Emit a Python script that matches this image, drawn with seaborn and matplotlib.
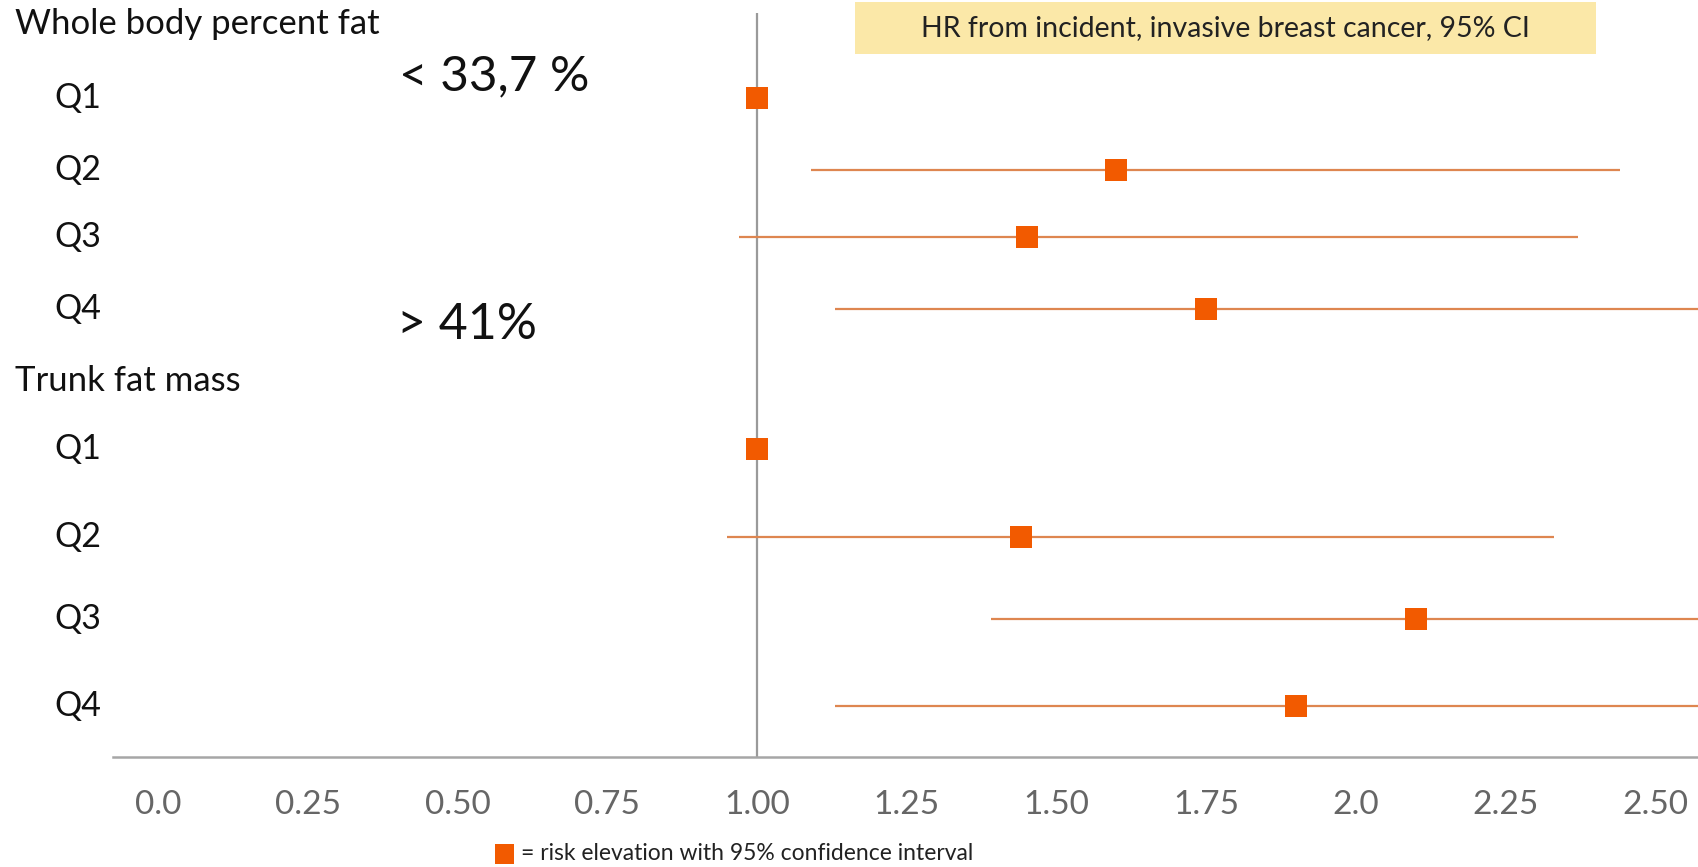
import numpy as np
import pandas as pd
import matplotlib
matplotlib.use("Agg")
import matplotlib.pyplot as plt
import matplotlib.patches as patches
import matplotlib.transforms as mtrans
import seaborn as sns

sns.set_style("white")
plt.rcParams["font.family"] = ["Lato", "DejaVu Sans"]

# data
groups = ["Whole body percent fat"] * 4 + ["Trunk fat mass"] * 4
quartiles = ["Q1", "Q2", "Q3", "Q4", "Q1", "Q2", "Q3", "Q4"]
hr = [1.00, 1.60, 1.45, 1.75, 1.00, 1.44, 2.10, 1.90]
ci_low = [1.00, 1.09, 0.97, 1.13, 1.00, 0.95, 1.39, 1.13]
ci_high = [1.00, 2.44, 2.37, 2.65, 1.00, 2.33, 2.65, 2.65]
tick_values = [0.0, 0.25, 0.50, 0.75, 1.00, 1.25, 1.50, 1.75, 2.0, 2.25, 2.50]
tick_labels = ["0.0", "0.25", "0.50", "0.75", "1.00", "1.25", "1.50", "1.75", "2.0", "2.25", "2.50"]

# layout: vertical row positions (pixels from top)
row_pos = [98, 170, 237, 309, 449, 537, 619, 706]
header_pos = {"Whole body percent fat": 24, "Trunk fat mass": 381}

df = pd.DataFrame({"group": groups, "q": quartiles, "hr": hr,
                   "lo": ci_low, "hi": ci_high, "row": row_pos})

W, H = 1699, 867
fig = plt.figure(figsize=(W / 100, H / 100), dpi=100)
ax = fig.add_axes([113 / W, (H - 757) / H, 1 - 113 / W, 757 / H])

orange = "#F25A00"
line_col = "#DE8650"

ax.vlines(1.0, 13, 757, color="#9a9a9a", lw=1.6, zorder=1)
ax.hlines(df["row"], df["lo"], df["hi"], color=line_col, lw=1.6, zorder=2)
sns.scatterplot(data=df, x="hr", y="row", marker="s", s=250, color=orange,
                linewidth=0, ax=ax, zorder=3, legend=False)

ax.set_xlim(-0.0751, 2.5726)
ax.set_ylim(757, 0)
ax.set_xticks(tick_values)
ax.set_xticklabels(tick_labels, fontsize=24, color="#666666")
ax.tick_params(axis="x", length=0, pad=24)
ax.set_yticks([])
ax.set_xlabel("")
ax.set_ylabel("")
for s in ["top", "right", "left"]:
    ax.spines[s].set_visible(False)
ax.spines["bottom"].set_color("#a6a6a6")
ax.spines["bottom"].set_linewidth(1.8)

# row labels on the left
tr = mtrans.blended_transform_factory(fig.transFigure, ax.transData)
for name, y in header_pos.items():
    ax.text(15 / W, y, name, transform=tr, fontsize=25, va="center", ha="left",
            color="#111111", clip_on=False)
for q, y in zip(df["q"], df["row"]):
    ax.text(54 / W, y, q, transform=tr, fontsize=24.5, va="center", ha="left",
            color="#111111", clip_on=False)

fig.text(399 / W, 1 - 76 / H, "< 33,7 %", fontsize=35.5, va="center", ha="left", color="#111111")
fig.text(397 / W, 1 - 325 / H, "> 41%", fontsize=36, va="center", ha="left", color="#111111")

# yellow title box
fig.patches.append(patches.Rectangle((855 / W, 1 - 54 / H), (1596 - 855) / W, 52 / H,
                                     transform=fig.transFigure, facecolor="#FBE8A8",
                                     edgecolor="none", zorder=0))
fig.text(1225 / W, 1 - 28 / H, "HR from incident, invasive breast cancer, 95% CI",
         fontsize=20.5, ha="center", va="center", color="#222222")

# legend at the bottom
fig.patches.append(patches.Rectangle((495 / W, 1 - 864 / H), 19 / W, 20 / H,
                                     transform=fig.transFigure, facecolor=orange,
                                     edgecolor="none"))
fig.text(521 / W, 1 - 853 / H, "= risk elevation with 95% confidence interval",
         fontsize=16.5, ha="left", va="center", color="#222222")

fig.savefig("out.png", dpi=100, facecolor="white")
